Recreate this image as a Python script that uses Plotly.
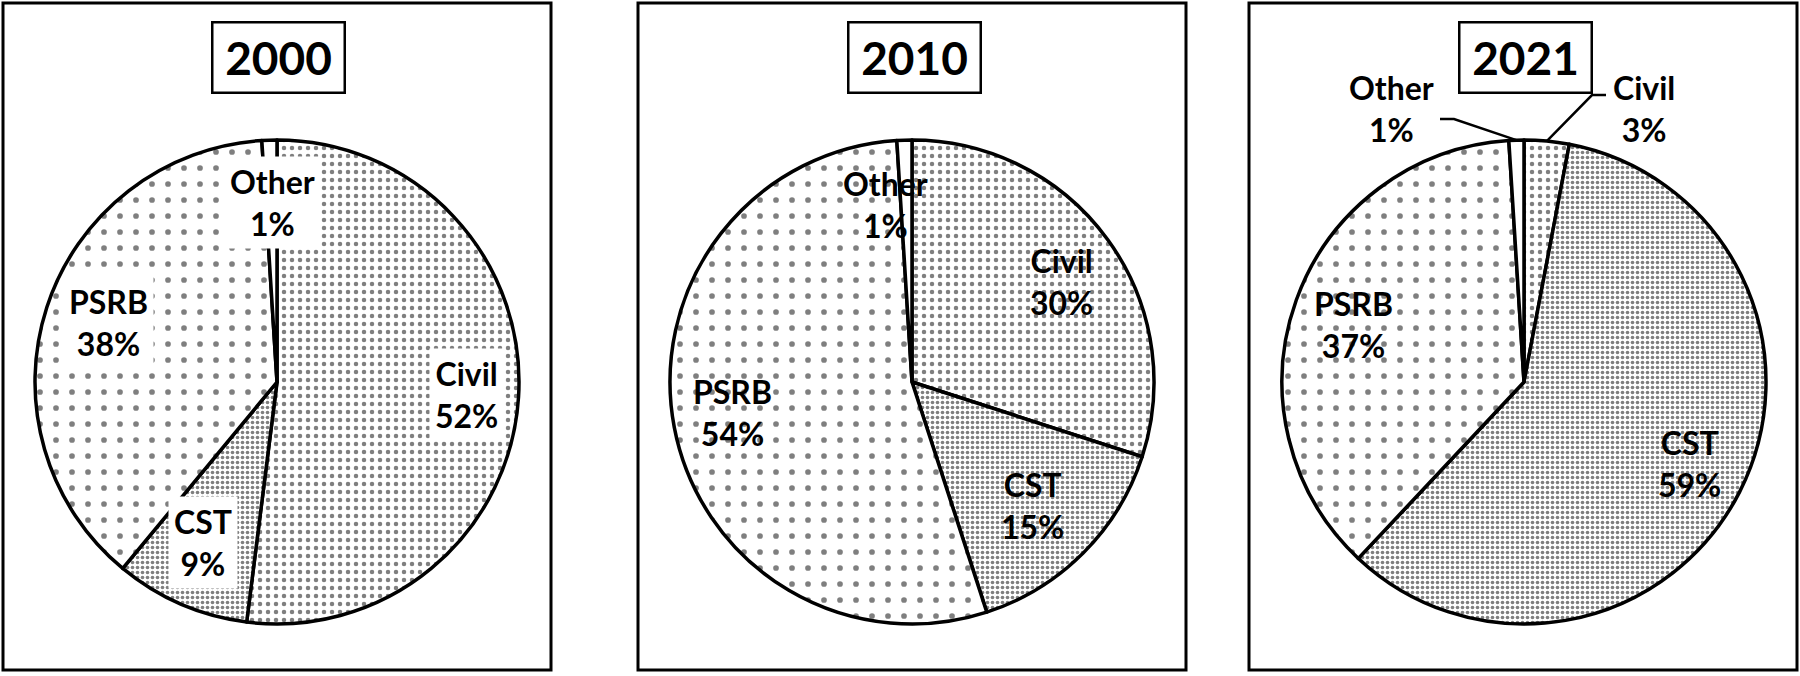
import math
import plotly.graph_objects as go

# ---------------- data ----------------
years = ["2000", "2010", "2021"]
categories = ["Civil", "CST", "PSRB", "Other"]
values_2000 = [52, 9, 38, 1]
values_2010 = [30, 15, 54, 1]
values_2021 = [3, 59, 37, 1]
all_values = [values_2000, values_2010, values_2021]

# ---------------- layout (pixels) ----------------
W, H = 1800, 676
panel_x = [(3, 551), (638, 1186), (1249, 1797)]
panel_y = (3, 670)
pie_cx = [277, 912, 1524]
pie_cy = 382
R = 242
title_cx = [278, 914, 1525]
title_y = 57

# label centres (pixel positions) per panel, per category
label_pos = [
    {"Civil": (466, 394), "CST": (203, 542), "PSRB": (108, 323), "Other": (272, 202)},
    {"Civil": (1061, 281), "CST": (1032, 505), "PSRB": (732, 412), "Other": (885, 204)},
    {"Civil": (1644, 108), "CST": (1689, 463), "PSRB": (1353, 324), "Other": (1391, 108)},
]
label_bg = ["white", "rgba(0,0,0,0)", "rgba(0,0,0,0)"]
# outside labels with leader lines: (category, elbow point, end point near label)
leaders = {2: [("Civil", (1592, 95), (1606, 95)), ("Other", (1454, 119), (1440, 119))]}

# pattern per category
pat_shape = {"Civil": ".", "CST": ".", "PSRB": ".", "Other": ""}
pat_size = {"Civil": 8, "CST": 5, "PSRB": 16, "Other": 8}
pat_solid = {"Civil": 0.25, "CST": 0.42, "PSRB": 0.1, "Other": 0.1}

FONT = "Lato"


def px(x):
    return x / W


def py(y):
    return 1 - y / H


fig = go.Figure()
shapes = []
annotations = []

for i, (yr, vals) in enumerate(zip(years, all_values)):
    cx = pie_cx[i]
    fig.add_trace(go.Pie(
        labels=categories,
        values=vals,
        sort=False,
        direction="clockwise",
        rotation=0,
        textinfo="none",
        hoverinfo="label+percent",
        showlegend=False,
        domain=dict(x=[px(cx - R), px(cx + R)], y=[(H - pie_cy - R) / H, (H - pie_cy + R) / H]),
        marker=dict(
            colors=["white"] * len(categories),
            line=dict(color="black", width=3.5),
            pattern=dict(
                shape=[pat_shape[c] for c in categories],
                size=[pat_size[c] for c in categories],
                solidity=[pat_solid[c] for c in categories],
                fgcolor="black",
                bgcolor="white",
                fillmode="overlay",
            ),
        ),
    ))

    # panel frame
    x0, x1 = panel_x[i]
    shapes.append(dict(type="rect", xref="paper", yref="paper",
                       x0=px(x0), x1=px(x1), y0=py(panel_y[1]), y1=py(panel_y[0]),
                       line=dict(color="black", width=3), fillcolor="rgba(0,0,0,0)", layer="below"))

    # title box
    annotations.append(dict(
        x=px(title_cx[i]), y=py(title_y), xref="paper", yref="paper", showarrow=False,
        text=yr, font=dict(family=FONT, size=46, color="black", weight="bold"),
        xanchor="center", yanchor="middle", width=126, height=64,
        bordercolor="black", borderwidth=2.5, borderpad=2, bgcolor="white",
    ))

    # slice mid angles (for leader lines)
    total = sum(vals)
    cum = 0
    mid_angle = {}
    for c, v in zip(categories, vals):
        mid_angle[c] = (cum + v / 2) / total * 2 * math.pi
        cum += v

    for c, v in zip(categories, vals):
        lx, ly = label_pos[i][c]
        annotations.append(dict(
            x=px(lx), y=py(ly), xref="paper", yref="paper", showarrow=False,
            text=f"{c}<br>{v}%", font=dict(family=FONT, size=32, color="black", weight="bold"),
            xanchor="center", yanchor="middle", bgcolor=label_bg[i], borderpad=5,
        ))

    for c, elbow, end in leaders.get(i, []):
        a = mid_angle[c]
        sx = cx + R * math.sin(a)
        sy = pie_cy - R * math.cos(a)
        path = f"M {px(sx)} {py(sy)} L {px(elbow[0])} {py(elbow[1])} L {px(end[0])} {py(end[1])}"
        shapes.append(dict(type="path", xref="paper", yref="paper", path=path,
                           line=dict(color="black", width=2.5)))

fig.update_layout(
    width=W, height=H,
    margin=dict(l=0, r=0, t=0, b=0),
    paper_bgcolor="white", plot_bgcolor="white",
    shapes=shapes, annotations=annotations,
)

fig.write_html("out.html", config={"displayModeBar": False},
               post_script="document.body.style.margin='0px';")
